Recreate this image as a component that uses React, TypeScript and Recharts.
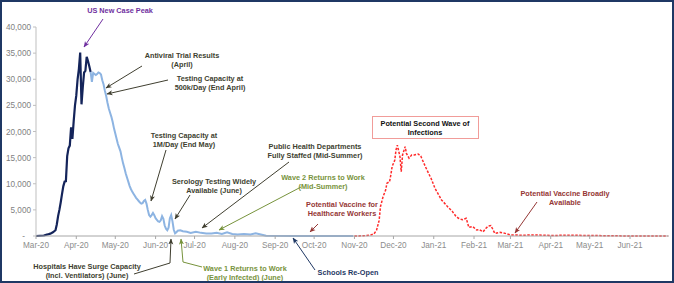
import { LineChart, Line, XAxis, YAxis } from "recharts";

// axe des dates : jour 0 = 1er mars 2020
const monthStarts = [
  "2020-03-01", "2020-04-01", "2020-05-01", "2020-06-01", "2020-07-01", "2020-08-01",
  "2020-09-01", "2020-10-01", "2020-11-01", "2020-12-01", "2021-01-01", "2021-02-01",
  "2021-03-01", "2021-04-01", "2021-05-01", "2021-06-01",
];
const monthLabels = [
  "Mar-20", "Apr-20", "May-20", "Jun-20", "Jul-20", "Aug-20", "Sep-20", "Oct-20",
  "Nov-20", "Dec-20", "Jan-21", "Feb-21", "Mar-21", "Apr-21", "May-21", "Jun-21",
];
const yTicks = [0, 5000, 10000, 15000, 20000, 25000, 30000, 35000, 40000];

// première vague (observée)
const navyDates = [
  "2020-03-01", "2020-03-04", "2020-03-07", "2020-03-10", "2020-03-12", "2020-03-14",
  "2020-03-16", "2020-03-17", "2020-03-18", "2020-03-19", "2020-03-20", "2020-03-21",
  "2020-03-22", "2020-03-23", "2020-03-24", "2020-03-25", "2020-03-26", "2020-03-27",
  "2020-03-28", "2020-03-29", "2020-03-30", "2020-03-31", "2020-04-01", "2020-04-02",
  "2020-04-03", "2020-04-04", "2020-04-05", "2020-04-06", "2020-04-07", "2020-04-08",
  "2020-04-09", "2020-04-10", "2020-04-11", "2020-04-12",
];
const navyCases = [
  0, 50, 100, 300, 450, 700,
  1100, 2200, 3800, 5000, 6400, 8000,
  9500, 10400, 10500, 15300, 16800, 17300,
  20800, 18600, 22000, 25000, 26900, 30000,
  32000, 35100, 25200, 28500, 31300, 31600,
  34300, 33500, 32500, 31400,
];

// décrue (projection)
const blueDates = [
  "2020-04-12", "2020-04-13", "2020-04-14", "2020-04-15", "2020-04-16", "2020-04-17",
  "2020-04-18", "2020-04-19", "2020-04-20", "2020-04-21", "2020-04-22", "2020-04-23",
  "2020-04-24", "2020-04-25", "2020-04-26", "2020-04-27", "2020-04-28", "2020-04-29",
  "2020-04-30", "2020-05-01", "2020-05-02", "2020-05-03", "2020-05-04", "2020-05-05",
  "2020-05-06", "2020-05-07", "2020-05-08", "2020-05-09", "2020-05-10", "2020-05-11",
  "2020-05-12", "2020-05-13", "2020-05-14", "2020-05-15", "2020-05-16", "2020-05-17",
  "2020-05-18", "2020-05-19", "2020-05-20", "2020-05-21", "2020-05-22", "2020-05-23",
  "2020-05-24", "2020-05-25", "2020-05-26", "2020-05-27", "2020-05-28", "2020-05-29",
  "2020-05-30", "2020-05-31", "2020-06-01", "2020-06-02", "2020-06-03", "2020-06-04",
  "2020-06-05", "2020-06-06", "2020-06-07", "2020-06-08", "2020-06-09", "2020-06-10",
  "2020-06-11", "2020-06-12", "2020-06-13", "2020-06-14", "2020-06-15", "2020-06-16",
  "2020-06-17", "2020-06-18", "2020-06-20", "2020-06-22", "2020-06-25", "2020-06-28",
  "2020-07-02", "2020-07-06", "2020-07-10", "2020-07-14", "2020-07-18", "2020-07-22",
  "2020-07-26", "2020-07-30", "2020-08-03", "2020-08-08", "2020-08-13", "2020-08-17",
  "2020-08-21", "2020-08-25", "2020-09-15", "2020-10-10", "2020-10-31",
];
const blueCases = [
  31400, 29500, 31200, 31000, 30800, 31000,
  31300, 31200, 30900, 29800, 29000, 27800,
  26800, 25500, 24400, 23600, 22800, 21800,
  20600, 19600, 18600, 17600, 16900, 16200,
  15000, 13900, 13000, 12000, 11200, 10400,
  9600, 9000, 8500, 8100, 7700, 7300,
  7000, 6700, 6400, 6200, 6300, 6700,
  6900, 6200, 5000, 4000, 3700, 4000,
  4400, 4000, 3400, 3100, 2800, 2700,
  3000, 3800, 3300, 2000, 1400, 1100,
  1600, 3400, 4000, 2800, 1200, 500,
  700, 1000, 1100, 900, 800, 600,
  800, 600, 500, 500, 600, 400,
  700, 400, 300, 400, 300, 500,
  300, 50, 0, 0, 0,
];

// seconde vague potentielle
const redDates = [
  "2020-11-01", "2020-11-08", "2020-11-13", "2020-11-16", "2020-11-18", "2020-11-20",
  "2020-11-21", "2020-11-23", "2020-11-25", "2020-11-26", "2020-11-28", "2020-11-29",
  "2020-11-30", "2020-12-02", "2020-12-03", "2020-12-04", "2020-12-06", "2020-12-07",
  "2020-12-08", "2020-12-10", "2020-12-11", "2020-12-13", "2020-12-15", "2020-12-17",
  "2020-12-20", "2020-12-22", "2020-12-25", "2020-12-28", "2020-12-30", "2021-01-02",
  "2021-01-05", "2021-01-07", "2021-01-10", "2021-01-12", "2021-01-15", "2021-01-18",
  "2021-01-20", "2021-01-23", "2021-01-26", "2021-01-28", "2021-01-31", "2021-02-03",
  "2021-02-05", "2021-02-08", "2021-02-10", "2021-02-12", "2021-02-14", "2021-02-17",
  "2021-02-21", "2021-02-25", "2021-03-01", "2021-03-10", "2021-03-20", "2021-04-01",
  "2021-04-15", "2021-05-01", "2021-05-15", "2021-06-01", "2021-06-30",
];
const redCases = [
  0, 50, 150, 400, 1100, 3000,
  5600, 7500, 8800, 10100, 10400, 11700,
  13300, 14500, 16500, 17400, 15200, 12300,
  15500, 17100, 15800, 14900, 15500, 15500,
  15700, 15300, 13600, 12000, 11000, 9100,
  7800, 6900, 6100, 5500, 4800, 3800,
  3400, 3100, 3400, 1650, 1800, 1150,
  1250, 800, 1450, 1900, 2000, 500,
  700, 500, 200, 150, 200, 100,
  150, 100, 50, 0, 0,
];

const ORIGIN = Date.parse("2020-03-01");
const toDay = (s: string) => Math.round((Date.parse(s) - ORIGIN) / 86400000);

const rowsByDay = new Map<number, any>();
function addSeries(key: string, dates: string[], values: number[]) {
  dates.forEach((d, i) => {
    const day = toDay(d);
    const row = rowsByDay.get(day) || { day };
    row[key] = values[i];
    rowsByDay.set(day, row);
  });
}
addSeries("observed", navyDates, navyCases);
addSeries("decline", blueDates, blueCases);
addSeries("second", redDates, redCases);
const data = [...rowsByDay.values()].sort((a, b) => a.day - b.day);

const monthTicks = monthStarts.map(toDay);
const endDay = toDay("2021-07-01");

const DARK = "#403F30";
const GREEN = "#77933C";
const RED = "#953735";
const PURPLE = "#7030A0";
const NAVY = "#1F3864";

type Note = { lines: string[]; x: number; y: number; color: string; arrow: number[][] };

// annotations (coordonnées écran)
const notes: Note[] = [
  { lines: ["US New Case Peak"], x: 120, y: 10, color: PURPLE, arrow: [[103, 19], [84, 47]] },
  { lines: ["Antiviral Trial Results", "(April)"], x: 182, y: 55, color: DARK, arrow: [[142, 66], [106, 88]] },
  { lines: ["Testing Capacity at", "500k/Day (End April)"], x: 210, y: 78, color: DARK, arrow: [[168, 80], [107, 94]] },
  { lines: ["Testing Capacity at", "1M/Day (End May)"], x: 184, y: 135, color: DARK, arrow: [[166, 150], [151, 201]] },
  { lines: ["Serology Testing Widely", "Available (June)"], x: 214, y: 181, color: DARK, arrow: [[190, 195], [175, 219]] },
  { lines: ["Public Health Departments", "Fully Staffed (Mid-Summer)"], x: 315, y: 146, color: DARK, arrow: [[289, 162], [202, 228]] },
  { lines: ["Wave 2 Returns to Work", "(Mid-Summer)"], x: 323, y: 177, color: GREEN, arrow: [[301, 187], [219, 230]] },
  { lines: ["Potential Vaccine for", "Healthcare Workers"], x: 342, y: 204, color: RED, arrow: [[318, 224], [310, 232]] },
  { lines: ["Potential Vaccine Broadly", "Available"], x: 565, y: 193, color: RED, arrow: [[537, 202], [515, 233]] },
  { lines: ["Hospitals Have Surge Capacity", "(Incl. Ventilators) (June)"], x: 87, y: 266, color: DARK, arrow: [[134, 274], [170, 263], [171, 239]] },
  { lines: ["Wave 1 Returns to Work", "(Early Infected) (June)"], x: 245, y: 268, color: GREEN, arrow: [[202, 267], [183, 262], [181, 239]] },
  { lines: ["Schools Re-Open"], x: 348, y: 272, color: NAVY, arrow: [[315, 270], [293, 238]] },
];

const FONT = "'Liberation Sans', Arial, sans-serif";

function YTick(props: any) {
  const { x, y, payload } = props;
  const v = payload.value as number;
  return (
    <text x={v === 0 ? x - 6 : x} y={y} dy={3} textAnchor="end" fill="#7F7F7F" fontSize={8.2} fontFamily={FONT}>
      {v === 0 ? "-" : v.toLocaleString("en-US")}
    </text>
  );
}

function Annotations() {
  const colors = [DARK, GREEN, RED, PURPLE, NAVY];
  return (
    <svg width={674} height={283} style={{ position: "absolute", left: 0, top: 0, pointerEvents: "none" }}>
      <defs>
        {colors.map((c) => (
          <marker key={c} id={"arr" + c.slice(1)} markerWidth={6} markerHeight={6} refX={5.5} refY={3}
            orient="auto" markerUnits="userSpaceOnUse">
            <path d="M0,0.5 L6,3 L0,5.5 L1.5,3 z" fill={c} />
          </marker>
        ))}
      </defs>
      {notes.map((n, i) => (
        <g key={i}>
          <polyline points={n.arrow.map((p) => p.join(",")).join(" ")} fill="none" stroke={n.color}
            strokeWidth={1} markerEnd={`url(#arr${n.color.slice(1)})`} />
          {n.lines.map((t, j) => (
            <text key={j} x={n.x} y={n.y + j * 9} textAnchor="middle" dominantBaseline="central"
              fontSize={7.3} fontWeight="bold" fill={n.color} fontFamily={FONT}>{t}</text>
          ))}
        </g>
      ))}
      <rect x={372.5} y={116.5} width={106} height={22} fill="#fff" stroke="#F19C99" />
      <text x={425} y={123} textAnchor="middle" dominantBaseline="central" fontSize={7.3} fontWeight="bold" fill="#111" fontFamily={FONT}>
        Potential Second Wave of
      </text>
      <text x={425} y={132} textAnchor="middle" dominantBaseline="central" fontSize={7.3} fontWeight="bold" fill="#111" fontFamily={FONT}>
        Infections
      </text>
    </svg>
  );
}

export default function App() {
  return (
    <div style={{ position: "absolute", left: 0, top: 0, width: 674, height: 283, background: "#fff", fontFamily: FONT }}>
      <LineChart width={674} height={283} data={data} margin={{ top: 27, right: 5, bottom: 17, left: 0 }}>
        <XAxis
          type="number"
          dataKey="day"
          domain={[0, endDay]}
          ticks={monthTicks}
          tickFormatter={(v: number) => monthLabels[monthTicks.indexOf(v)] ?? ""}
          tick={{ fontSize: 8.2, fill: "#8C8C8C", fontFamily: FONT }}
          stroke="#A6A6A6"
          tickSize={3}
          tickMargin={3}
          interval={0}
          height={30}
        />
        <YAxis
          domain={[0, 40000]}
          ticks={yTicks}
          width={36}
          tick={<YTick />}
          stroke="#BFBFBF"
          tickSize={3}
          interval={0}
        />
        <Line dataKey="observed" stroke="#14245A" strokeWidth={2.2} dot={false} connectNulls isAnimationActive={false} />
        <Line dataKey="decline" stroke="#8DB4E2" strokeWidth={2} dot={false} connectNulls isAnimationActive={false} />
        <Line dataKey="second" stroke="#FF2A2A" strokeWidth={1.5} strokeDasharray="2.5 1.5" dot={false} connectNulls isAnimationActive={false} />
      </LineChart>
      <Annotations />
      <div style={{ position: "absolute", left: 0, top: 0, width: 674, height: 283, boxSizing: "border-box", border: "2px solid #1F3864", pointerEvents: "none" }} />
    </div>
  );
}
